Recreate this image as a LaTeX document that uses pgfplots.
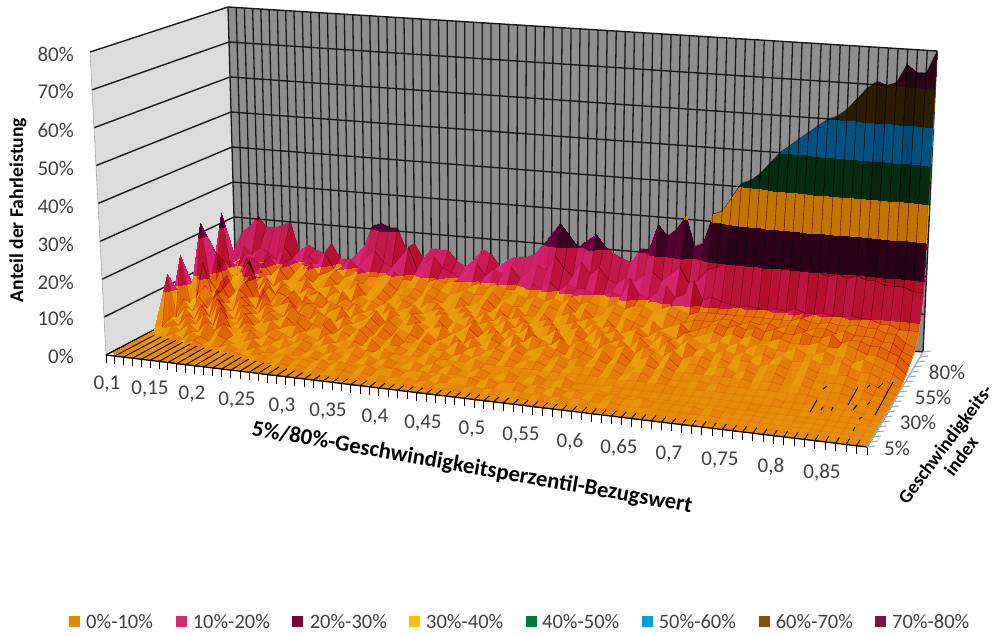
\documentclass[border=0pt]{standalone}
\usepackage{pgfplots}
\pgfplotsset{compat=1.18}
\usepackage{pgfplotstable}
\usepackage{fontspec}
\setmainfont{Carlito}
\definecolor{c0}{HTML}{E8920A}
\definecolor{c1}{HTML}{D0246C}
\definecolor{c2}{HTML}{780048}
\definecolor{c3}{HTML}{D9AB00}
\definecolor{c4}{HTML}{117A2B}
\definecolor{c5}{HTML}{0094AF}
\definecolor{c6}{HTML}{7A4C00}
\definecolor{c7}{HTML}{7A1142}
\definecolor{wallA}{HTML}{DCDCDC}
\definecolor{wallB}{HTML}{8E8E8E}
\definecolor{txt}{HTML}{404040}
\definecolor{tickb}{HTML}{9AAEC2}
\definecolor{lg0}{HTML}{E08A00}
\definecolor{lg1}{HTML}{D42A6C}
\definecolor{lg2}{HTML}{7A0038}
\definecolor{lg3}{HTML}{FFC000}
\definecolor{lg4}{HTML}{007A33}
\definecolor{lg5}{HTML}{009FD9}
\definecolor{lg6}{HTML}{7F5000}
\definecolor{lg7}{HTML}{7A1340}
\tikzset{tl/.style={font=\fontsize{21}{21}\selectfont,text=txt,inner sep=0pt},
 ll/.style={font=\fontsize{20.5}{20.5}\selectfont,text=txt,inner sep=0pt},
 bl/.style={font=\bfseries\fontsize{#1}{#1}\selectfont,text=black,inner sep=0pt,align=center}}
% z values in %: one line per speed index from 100% down to 5%, columns 0.10 to 0.89
\def\conv#1,{\ifx\end#1\empty\else#1\noexpand\\\expandafter\conv\fi}
\edef\alldata{z\noexpand\\\conv
12,16,18,21,18,18,19,20,12,14,13,12,15,11,11,11,15,21,22,21,21,15,17,13,16,16,16,13,12,14,17,16,13,15,16,16,17,20,23,26,23,20,22,24,21,19,18,17,21,21,28,25,27,31,23,24,32,33,37,41,42,44,47,50,52,54,56,58,60,61,63,66,69,71,70,71,76,74,74,80,
6,9,13,11,13,12,10,14,11,9,12,10,13,9,10,12,10,13,15,12,11,14,17,11,13,15,12,11,10,12,14,11,13,12,14,11,13,15,14,18,15,13,17,14,16,13,12,14,13,15,16,14,16,18,14,15,18,19,20,20,20,20,21,20,20,21,20,21,20,19,20,19,20,19,19,18,18,18,17,17,
3,10,8,12,11,9,12,9,11,8,9,11,8,9,10,8,9,11,9,9,10,11,9,9,10,9,10,9,10,10,9,10,9,10,9,9,10,11,10,12,10,12,11,11,10,10,11,10,15,11,10,12,14,11,12,16,11,12,11,10.5,10,10.5,10,10,10.5,10,11,10,10,10.5,10,10,10.5,10,10,9,9,8,8,8,
1,24,9,10,12,8,11,8,10,7,8,9,7,8,9,7,8,9,8,7,8,9,7,8,8,7,9,8,7,8,9,8,8,9,7,8,9,8,9,8,9,8,10,8,9,8,8,9,8,9,9,8,9,10,9,8,9,9,9,9,9,9,9,9,9,9,9,10,9,9,9.5,9,9,9.5,9,9,8,8,6,5,
1,6,12,7,9,12,7,9,6,8,6,8,9,6,7,8,6,7,9,6,7,8,6,7,7,6,8,7,6,7,8,6,7,8,6,8,7,7,8,7,8,7,9,7,8,6,7,8,7,8,8,7,8,9,8,7,8,8,8,9,9,8,9,8.5,9,8,9,9,8,9,9,8,9,8,8,8,7,7,5,4,
0,5,15,6,8,10,14,6,9,5,8,6,6,8,7,5,7,8,5,7,6,7,6,5,7,6,5,7,7,5,6,7,5,7,6,7,5,8,6,6,7,5,7,8,6,7,6,7,5,8,7,6,8,6,7,8,6,7,8,9,8,9,8,9,8,9,8,8,9,8,8,9,7,8,8,7,7,6,5,3,
0,24,8,5,10,6,9,11,5,8,7,6,8,5,7,8,6,5,7,6,5,7,6,7,5,6,7,5,6,7,5,6,7,5,7,5,7,6,7,5,6,7,5,6,7,5,7,6,7,5,6,7,5,7,6,5,7,6,7,8,7,8,7,8,7,7,8,7,7,7,8,7,7,8,7,6,6,5,4,2,
0,3,14,6,9,5,7,10,6,9,5,8,7,4,8,6,5,7,6,5,7,5,6,5,7,5,6,6,5,6,7,5,6,7,5,6,5,7,5,7,5,6,7,5,6,7,5,7,6,7,5,7,6,5,7,6,5,7,6,6,7,6,7,6,7,7,6,6,7,6,6,7,6,6,5,6,5,4,3,1.5,
0,3,6,9,6,8,5,9,7,4,8,5,6,7,4,7,6,4,6,7,4,6,5,7,4,6,5,7,5,4,6,4,6,5,7,4,6,4,6,5,7,4,5,7,4,6,5,4,7,5,6,4,7,5,4,7,5,7,5,6,5,6,5,6,5,6,5,6,5,5,6,5,5,6,5,4,4,3,2,1,
0,18,5,7,4,9,6,4,8,6,4,7,5,4,7,5,4,6,5,4,6,4,5,6,4,6,4,5,6,4,5,6,4,5,6,4,5,6,4,6,4,6,5,4,6,4,6,5,4,6,5,6,4,6,5,4,6,4,5,5,4,5,4,5,5,4,5,5,4,4,5,4,4,4,4,3,3,2,1,.5,
0,2,7,4,6,3,8,5,3,7,5,3,6,4,5,3,6,4,3,6,3,5,4,5,3,5,3,5,4,3,5,3,4,5,3,5,3,5,4,3,5,3,4,5,4,3,5,4,3,5,3,5,3,4,5,3,5,3,4,4,3,4,4,3,4,3,4,4,3,3,4,3,3,3,3,2,2,1,1,.3,
0,14.5,3,6,3,7,4,9,4,3,6,3,4,5,3,4,5,3,4,5,3,4,3,5,3,4,3,5,3,3,4,3,4,3,5,3,4,3,4,3,4,3,3,4,3,4,3,4,3,4,3,4,3,3,4,3,4,3,3,3,3,3,3,3,3,2.5,3,3,2.5,2.5,3,2.5,2,2,2,1.5,1,1,.5,.2,
0,1,4,2,5,3,6,3,8,3,3,5,3,2,4,3,2,4,3,2,4,2,3,3,2,4,2,3,3,2,3,2,3,3,2,3,2,3,3,2,3,2,3,3,2,3,2,3,3,3,2,3,2,3,3,2,3,2,2,2,2.5,2,2.5,2,2,2,2,2,2,2,2,2,1.5,1.5,1,1,.7,.5,.3,.1,
0,0,2,3,2,4,2,5,3,5,2,3,4,2,3,2,3,2,3,2,2,3,2,2,3,2,2,3,2,2,2,2,3,2,2,2,2,3,2,2,2,2,2,2,2,2,2,2,2,2,2,2,2,2,2,2,2,2,1.5,1.5,1.5,1.5,1.5,1.5,1.5,1.5,1.5,1.5,1.5,1,1,1,1,1,.7,.5,.5,.3,.2,0,
0,0,1,1,2,1,3,2,1,3,2,1,2,3,1,2,1,2,2,1,2,1,2,1,2,1,2,1,2,1,1,2,1,2,1,2,1,1,2,1,1,2,1,1,2,1,1,2,1,1,1,1,1.5,1,1,1,1,1,1,1,1,1,1,1,1,1,1,.7,.7,.7,.7,.5,.5,.5,.3,.3,.2,.2,0,0,
0,0,0,.5,1,.5,1,2,1,1,1,2,1,1,2,1,1,1,1,1,1,.5,1,1,.5,1,.5,1,1,.5,1,.5,1,.5,1,.5,1,.5,1,.5,1,.5,.5,1,.5,1,.5,.5,1,.5,.5,1,.5,.5,.5,.5,.5,.5,.5,.5,.5,.5,.5,.5,.5,.3,.3,.3,.3,.3,.3,.3,.2,.2,.2,.1,.1,0,0,0,
0,0,0,0,.2,.3,.3,.5,.5,1,.5,1,1.5,1,.5,1.5,1,1,2,1,1.5,1,2,1,2,1.5,1,2,1,1.5,2,1,1.5,2,1,2,1,1.5,2,1,2,1,1.5,2,1,1.5,1,2,1,1.5,1,1.5,1,1.5,1,1,1.5,1,1,1,1,1,.5,1,.5,.5,.5,.5,.3,.3,.3,.3,.2,.2,.1,.1,0,0,0,0,
0,0,0,0,0,.1,.2,.2,.3,.3,.5,.3,.5,1,.5,.5,1,.5,1,.5,1,.5,1,.5,1,1,.5,1,.5,1,.5,1,1,.5,1,.5,1,1,.5,1,.5,1,.5,1,1,.5,1,.5,1,.5,1,.5,.5,1,.5,.5,.5,.5,.5,.5,.5,.3,.3,.5,.3,.3,.2,.2,.2,.2,.1,.1,.1,.1,0,0,0,0,0,0,
0,0,0,0,0,0,0,0,.1,.1,.1,.1,.2,.2,.2,.2,.3,.2,.3,.3,.3,.5,.3,.5,.3,.5,.3,.5,.5,.3,.5,.3,.5,.5,.3,.5,.3,.5,.3,.5,.3,.5,.5,.3,.5,.3,.5,.3,.3,.5,.3,.3,.3,.3,.3,.3,.3,.3,.2,.2,.2,.2,.2,.1,.1,.1,.1,.1,.1,.1,0,0,0,0,0,0,0,0,0,0,
0,0,0,0,0,0,0,0,0,0,0,0,0,0,0,0,0,0,0,0,0,0,0,0,0,0,0,0,0,0,0,0,0,0,0,0,0,0,0,0,0,0,0,0,0,0,0,0,0,0,0,0,0,0,0,0,0,0,0,0,0,0,0,0,0,0,0,0,0,0,0,0,0,0,0,0,0,0,0,0,\end,}
\def\rd#1{\pgfplotstableread[row sep=\\]{#1}\surfdata}
\expandafter\rd\expandafter{\alldata}
% facet shading column derived from neighbouring heights
\pgfplotstableforeachcolumnelement{z}\of\surfdata\as\cell{\expandafter\xdef\csname zv\pgfplotstablerow\endcsname{\cell}}
\pgfplotstablecreatecol[create col/assign/.code={%
 \edef\cur{\csname zv\pgfplotstablerow\endcsname}%
 \pgfmathtruncatemacro\ia{\pgfplotstablerow+1}\pgfmathtruncatemacro\ib{\pgfplotstablerow+80}%
 \ifcsname zv\ia\endcsname\edef\nx{\csname zv\ia\endcsname}\else\let\nx\cur\fi
 \ifcsname zv\ib\endcsname\edef\nb{\csname zv\ib\endcsname}\else\let\nb\cur\fi
 \pgfmathsetmacro\steep{max(0,\cur-\nb)}%
 \pgfmathsetmacro\res{37+(1-0.8*min(1,\steep/15))*min(9,max(-30,7*(\nx-\cur)))-min(24,1.5*\steep)-ifthenelse(and(\pgfplotstablerow<480,mod(\pgfplotstablerow,80)>=55),11,0)}%
 \pgfkeyslet{/pgfplots/table/create col/next content}\res}]{L}\surfdata
\newcommand\lgd[4]{%
 \fill[#4] (axis cs:#1-5.5,{636-622-5.5}) rectangle (axis cs:#1+5.5,{636-622+5.5});
 \node[ll,anchor=west] at (axis cs:#2,{636-622}) {#3};}
\newcommand\xl[3]{\node[tl] at (axis cs:#2,{636-#3}) {#1};}
\begin{document}
\begin{tikzpicture}
\begin{axis}[
 scale only axis,width=998pt,height=636pt,hide axis,
 xmin=0,xmax=998,ymin=0,ymax=636,zmin=0,zmax=80,view={0}{90},
 clip=false,
 declare function={
  fu(\u)=\u*(0.91+0.09*\u);
  PX(\u,\v,\w)=(1-\w)*(106+761*\u+130*\v-74*\u*\v)+\w*(90+784*\u+138*\v-75*\u*\v);
  PY(\u,\v,\w)=636-((1-\w)*(355+92*\u-68*\v-27*\u*\v)+\w*(52+62*\u-45*\v-18*\u*\v));
 },
 colormap={bands}{
  color(0pt)=(c0) color(9.99pt)=(c0)
  color(10pt)=(c1) color(19.99pt)=(c1)
  color(20pt)=(c2) color(29.99pt)=(c2)
  color(30pt)=(c3) color(39.99pt)=(c3)
  color(40pt)=(c4) color(49.99pt)=(c4)
  color(50pt)=(c5) color(59.99pt)=(c5)
  color(60pt)=(c6) color(69.99pt)=(c6)
  color(70pt)=(c7) color(80pt)=(c7)},
 point meta min=0,point meta max=80,
 table/x index=0,table/y index=0,table/z index=0,
]
% walls
\fill[wallA] (axis cs:106,281)--(axis cs:236,349)--(axis cs:228,629)--(axis cs:90,584)--cycle;
\fill[wallB] (axis cs:236,349)--(axis cs:923,284)--(axis cs:937,585)--(axis cs:228,629)--cycle;
\pgfplotsinvokeforeach{0,...,79}{
 \draw[black!90,line width=1.3pt] (axis cs:{PX(fu(#1/79),1,0)},{PY(fu(#1/79),1,0)})--(axis cs:{PX(fu(#1/79),1,1)},{PY(fu(#1/79),1,1)});
}
\pgfplotsinvokeforeach{0,...,8}{
 \draw[black!90,line width=1.4pt] (axis cs:{PX(0,0,#1/8)},{PY(0,0,#1/8)})--(axis cs:{PX(0,1,#1/8)},{PY(0,1,#1/8)})--(axis cs:{PX(1,1,#1/8)},{PY(1,1,#1/8)});
}
\draw[black!35,line width=0.6pt] (axis cs:106,281)--(axis cs:90,584);
\addplot3[surf,shader=interp,z buffer=none,mesh/cols=80,mesh/ordering=x varies,point meta=\thisrow{z},forget plot] table[
 x expr={PX(fu(mod(\coordindex,80)/79),(19-floor(\coordindex/80))/19,\thisrow{z}/80)},
 y expr={PY(fu(mod(\coordindex,80)/79),(19-floor(\coordindex/80))/19,\thisrow{z}/80)}]{\surfdata};
\addplot3[surf,shader=flat corner,z buffer=none,mesh/cols=80,mesh/ordering=x varies,point meta=\thisrow{L},forget plot,
 colormap={sh}{gray(0pt)=(0.15) gray(80pt)=(0.85)},blend mode=overlay] table[
 x expr={PX(fu(mod(\coordindex,80)/79),(19-floor(\coordindex/80))/19,\thisrow{z}/80)},
 y expr={PY(fu(mod(\coordindex,80)/79),(19-floor(\coordindex/80))/19,\thisrow{z}/80)}]{\surfdata};
% floor grid seen where the surface lies on the floor; axis ticks
\pgfplotsinvokeforeach{0,...,79}{
 \draw[black,line width=0.9pt] (axis cs:{PX(fu(#1/79),0,0)},{PY(fu(#1/79),0,0)})--(axis cs:{PX(fu(#1/79),max(0.06,0.32-0.012*#1),0)},{PY(fu(#1/79),max(0.06,0.32-0.012*#1),0)});
 \draw[black,line width=0.9pt] (axis cs:{PX(fu(#1/79),0,0)},{PY(fu(#1/79),0,0)})--(axis cs:{PX(fu(#1/79),0,0)},{PY(fu(#1/79),0,0)-8});
}
\draw[black,line width=1.3pt] (axis cs:106,281)--(axis cs:867,189);
\foreach \a/\b/\c/\d in {893/382/875/415,858/387/848/405,883/383/878/388,870/385/867/388,870/402/867/405,862/417/859/419,857/405/853/410,855/427/853/431,817/400/810/412,833/407/831/411,823/407/821/410,827/386/823/389}{
 \edef\tmp{\noexpand\draw[black,line width=0.9pt] (axis cs:\a,{636-\b})--(axis cs:\c,{636-\d});}\tmp
}
\pgfplotsinvokeforeach{0,...,19}{
 \draw[tickb,line width=1.1pt] (axis cs:{PX(1,#1/19,0)},{PY(1,#1/19,0)})--(axis cs:{PX(1,#1/19,0)+8},{PY(1,#1/19,0)+1});
}
\draw[tickb,line width=1.3pt] (axis cs:867,189)--(axis cs:923,284);
% value axis labels
\foreach \t/\y in {80/54,70/91,60/130,50/168,40/206,30/244,20/282,10/318,0/356}{
 \edef\tmp{\noexpand\node[tl,anchor=east] at (axis cs:74,{636-\y}) {\t\noexpand\%};}\tmp
}
% category labels
\xl{0,1}{107}{384}\xl{0,15}{150}{389.5}\xl{0,2}{192}{394.5}\xl{0,25}{237}{400}
\xl{0,3}{282}{406}\xl{0,35}{328}{411.5}\xl{0,4}{375}{417.5}\xl{0,45}{423}{423.5}
\xl{0,5}{472}{429.5}\xl{0,55}{521}{435.5}\xl{0,6}{570}{441.5}\xl{0,65}{619}{448}
\xl{0,7}{669}{454}\xl{0,75}{720}{460.5}\xl{0,8}{771}{466.5}\xl{0,85}{822}{473}
% depth labels
\xl{5\%}{897}{448}\xl{30\%}{918}{422}\xl{55\%}{933}{397}\xl{80\%}{947}{372}
% titles
\node[bl=19.6,rotate=90] at (axis cs:18,{636-210}) {Anteil der Fahrleistung};
\node[bl=22.7,rotate=-10] at (axis cs:472,{636-468}) {5\%/80\%-Geschwindigkeitsperzentil-Bezugswert};
\node[bl=19,rotate=53] at (axis cs:953,{636-450}) {Geschwindigkeits-\\[1pt]index};
% legend
\lgd{74}{86}{0\%-10\%}{lg0}\lgd{181}{192.6}{10\%-20\%}{lg1}\lgd{297.5}{309.6}{20\%-30\%}{lg2}\lgd{414.5}{426}{30\%-40\%}{lg3}
\lgd{531}{542}{40\%-50\%}{lg4}\lgd{647}{658.6}{50\%-60\%}{lg5}\lgd{764}{775.6}{60\%-70\%}{lg6}\lgd{880}{892}{70\%-80\%}{lg7}
\end{axis}
\pgfresetboundingbox
\path (0,0) rectangle (998pt,636pt);
\end{tikzpicture}
\end{document}
